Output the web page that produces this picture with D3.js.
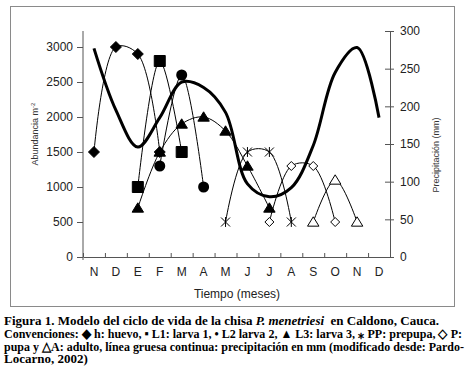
<!DOCTYPE html>
<html>
<head>
<meta charset="utf-8">
<script src="https://cdn.jsdelivr.net/npm/d3@7"></script>
<style>
  body { margin: 0; background: #fff; }
  .chart-text { font-family: "Liberation Sans", Arial, sans-serif; }
  .caption text { font-family: "Liberation Serif", "Times New Roman", serif; font-weight: bold; font-size: 13px; fill: #000; }
</style>
</head>
<body>
<svg id="chart" width="470" height="374"></svg>
<script>
// months along the x axis (Nov to Dec of the following year)
const months = ["N", "D", "E", "F", "M", "A", "M", "J", "J", "A", "S", "O", "N", "D"];

// abundance per stage, [month index, value]
const huevo  = [[0, 1500], [1, 3000], [2, 2900], [3, 1500]];
const larva1 = [[2, 1000], [3, 2800], [4, 1500]];
const larva2 = [[3, 1300], [4, 2600], [5, 1000]];
const larva3 = [[2, 700], [3, 1500], [4, 1900], [5, 2000], [6, 1800], [7, 1300], [8, 700]];
const prepupa = [[6, 500], [7, 1500], [8, 1500], [9, 500]];
const pupa   = [[8, 500], [9, 1300], [10, 1300], [11, 500]];
const adulto = [[10, 500], [11, 1100], [12, 500]];

// precipitation (mm), one value per month
const precip = [277, 195, 146, 185, 232, 225, 192, 97, 80, 92, 148, 245, 278, 185];

const leftTicks = [0, 500, 1000, 1500, 2000, 2500, 3000];
const rightTicks = [0, 50, 100, 150, 200, 250, 300];

const svg = d3.select("#chart");

// frame round the chart
svg.append("rect")
  .attr("x", 10.5).attr("y", 6.5)
  .attr("width", 444).attr("height", 300)
  .attr("fill", "none")
  .attr("stroke", "#8a8a8a");

const plotL = 83, plotR = 390, plotT = 31, plotB = 257;

const x = d3.scaleBand().domain(d3.range(months.length)).range([plotL, plotR]).padding(0);
const xEdge = d3.scaleLinear().domain([0, months.length]).range([plotL, plotR]);
const yL = d3.scaleLinear().domain([0, 3000 * (plotB - plotT) / 210]).range([plotB, plotT]);
const yR = d3.scaleLinear().domain([0, 300]).range([plotB, plotT]);

const cx = i => x(i) + x.bandwidth() / 2;

// axes
const axisColor = "#555";
const fontSans = "Liberation Sans, Arial, sans-serif";

const gx = svg.append("g").attr("transform", `translate(0,${plotB})`)
  .call(d3.axisTop(xEdge).ticks(months.length).tickSizeInner(4).tickSizeOuter(0).tickFormat(""));
gx.selectAll("line, path").attr("stroke", axisColor);

const gxl = svg.append("g").attr("transform", `translate(0,${plotB})`)
  .call(d3.axisBottom(x).tickSize(0).tickPadding(10).tickFormat(i => months[i]));
gxl.select(".domain").remove();
gxl.selectAll("text").attr("font-size", 12).attr("fill", "#222").attr("font-family", fontSans);

const gy = svg.append("g").attr("transform", `translate(${plotL},0)`)
  .call(d3.axisLeft(yL).tickValues(leftTicks).tickFormat(d3.format("d"))
    .tickSizeInner(6).tickSizeOuter(0).tickPadding(4));
gy.select(".domain").attr("d", `M0,${plotT}V${plotB + 3}`);
gy.selectAll("line, path").attr("stroke", axisColor);
gy.selectAll("text").attr("font-size", 12).attr("fill", "#222").attr("font-family", fontSans);

const gr = svg.append("g").attr("transform", `translate(${plotR},0)`)
  .call(d3.axisRight(yR).tickValues(rightTicks).tickFormat(d3.format("d"))
    .tickSizeInner(4).tickSizeOuter(0).tickPadding(6));
gr.selectAll(".tick line").attr("x1", -5);
gr.selectAll("line, path").attr("stroke", axisColor);
gr.selectAll("text").attr("font-size", 12).attr("fill", "#222").attr("font-family", fontSans);

// axis titles
svg.append("text")
  .attr("class", "chart-text")
  .attr("transform", "translate(38,134) rotate(-90)")
  .attr("text-anchor", "middle")
  .attr("font-size", 9).attr("fill", "#333")
  .text("Abundancia m")
  .append("tspan").attr("baseline-shift", "super").attr("font-size", 6).text("-2");

svg.append("text")
  .attr("class", "chart-text")
  .attr("transform", "translate(439,155) rotate(-90)")
  .attr("text-anchor", "middle")
  .attr("font-size", 9).attr("fill", "#333")
  .text("Precipitación (mm)");

svg.append("text")
  .attr("class", "chart-text")
  .attr("x", 237).attr("y", 298)
  .attr("text-anchor", "middle")
  .attr("font-size", 12).attr("fill", "#222")
  .text("Tiempo (meses)");

// thin smoothed lines for each stage
const stageLine = d3.line()
  .x(d => cx(d[0]))
  .y(d => yL(d[1]))
  .curve(d3.curveCatmullRom.alpha(0.5));

const stages = [huevo, larva1, larva2, larva3, prepupa, pupa, adulto];
svg.append("g").selectAll("path")
  .data(stages)
  .join("path")
  .attr("d", stageLine)
  .attr("fill", "none")
  .attr("stroke", "#000")
  .attr("stroke-width", 1);

// thick precipitation line
const rainLine = d3.line()
  .x((d, i) => cx(i))
  .y(d => yR(d))
  .curve(d3.curveCatmullRom.alpha(0.5));

svg.append("path")
  .datum(precip)
  .attr("d", rainLine)
  .attr("fill", "none")
  .attr("stroke", "#000")
  .attr("stroke-width", 3)
  .attr("stroke-linejoin", "round");

// markers
const diamond = s => `M0,${-s}L${s},0L0,${s}L${-s},0Z`;
const square = s => `M${-s},${-s}H${s}V${s}H${-s}Z`;
const triangle = s => `M0,${-s}L${s * 1.1},${s * 0.8}H${-s * 1.1}Z`;
const star = s => `M${-s},${-s}L${s},${s}M${-s},${s}L${s},${-s}M0,${-s * 1.1}V${s * 1.1}`;

function markers(data, path, fill) {
  svg.append("g").selectAll("path")
    .data(data)
    .join("path")
    .attr("transform", d => `translate(${cx(d[0])},${yL(d[1])})`)
    .attr("d", path)
    .attr("fill", fill)
    .attr("stroke", "#000")
    .attr("stroke-width", 1);
}

markers(huevo, diamond(5.5), "#000");
markers(larva1, square(5.5), "#000");
svg.append("g").selectAll("circle")
  .data(larva2)
  .join("circle")
  .attr("cx", d => cx(d[0]))
  .attr("cy", d => yL(d[1]))
  .attr("r", 5.5)
  .attr("fill", "#000");
markers(larva3, triangle(5.2), "#000");
markers(prepupa, star(4.5), "none");
markers(pupa, diamond(4.5), "#fff");
markers(adulto, triangle(5.2), "#fff");

// caption
const cap = svg.append("g").attr("class", "caption");
const l1 = cap.append("text").attr("x", 4).attr("y", 325);
l1.append("tspan").text("Figura 1. Modelo del ciclo de vida de la chisa ");
l1.append("tspan").attr("font-style", "italic").text("P. menetriesi");
l1.append("tspan").text("\u00a0 en Caldono, Cauca.");
cap.append("text").attr("x", 4).attr("y", 338)
  .attr("textLength", 458).attr("lengthAdjust", "spacingAndGlyphs")
  .text("Convenciones: \u25c6 h: huevo, \u25aa L1: larva 1, \u2022 L2 larva 2, \u25b2 L3: larva 3, \u204e PP: prepupa, \u25c7 P:");
cap.append("text").attr("x", 4).attr("y", 350.5)
  .attr("textLength", 460).attr("lengthAdjust", "spacingAndGlyphs")
  .text("pupa y \u25b3A: adulto, línea gruesa continua: precipitación en mm (modificado desde: Pardo-");
cap.append("text").attr("x", 4).attr("y", 363)
  .text("Locarno, 2002)");
</script>
</body>
</html>
